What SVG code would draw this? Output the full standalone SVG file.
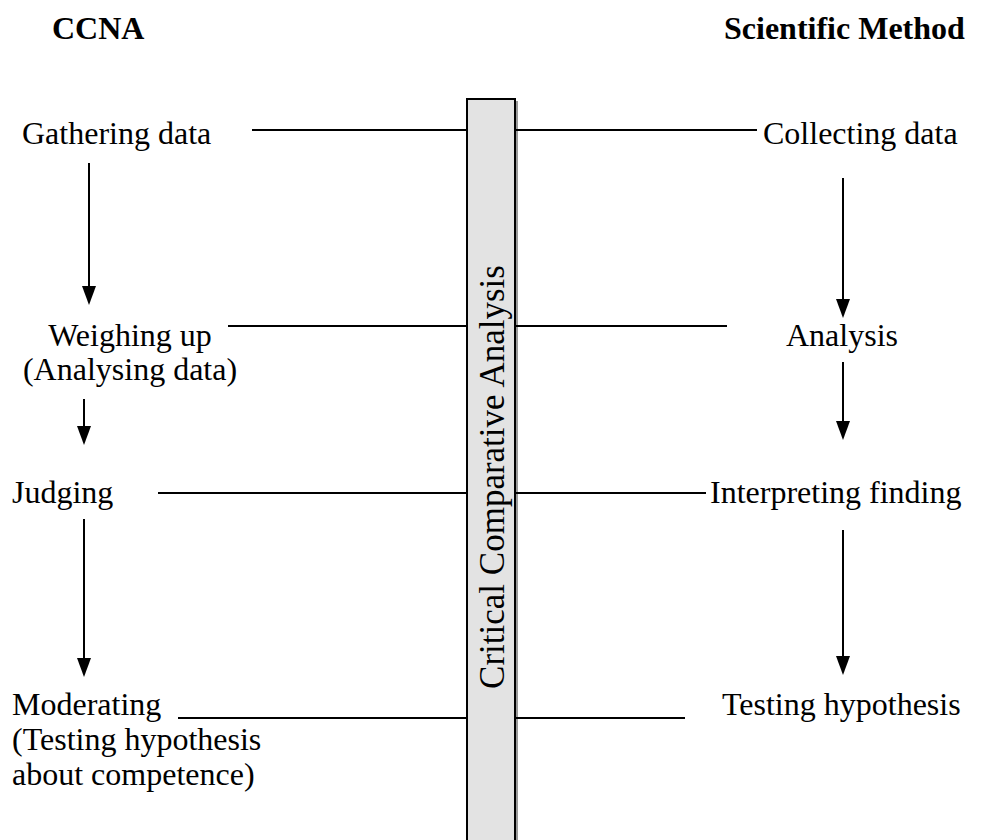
<svg xmlns="http://www.w3.org/2000/svg" width="993" height="840" viewBox="0 0 993 840" font-family="'Liberation Serif', 'Times New Roman', 'DejaVu Serif', serif">
  <style>
    .t { font-family: 'Liberation Serif', 'Times New Roman', 'DejaVu Serif', serif; font-size: 32px; fill: #000; }
    .h { font-family: 'Liberation Serif', 'Times New Roman', 'DejaVu Serif', serif; font-size: 32px; font-weight: bold; fill: #000; }
    .ln { stroke: #000; stroke-width: 2; fill: none; }
    .hd { fill: #000; }
  </style>
  <rect width="993" height="840" fill="#fff"/>

  <!-- column headings -->
  <g id="head-ccna"><text class="h" x="52" y="39">CCNA</text></g>
  <g id="head-sci"><text class="h" x="724" y="39">Scientific Method</text></g>

  <!-- central bar -->
  <g id="bar">
    <line x1="517" y1="101" x2="517" y2="840" stroke="#9a9a9a" stroke-width="2"/>
    <rect x="467" y="99" width="48" height="745" fill="#e3e3e3" stroke="#000" stroke-width="2"/>
    <text class="t" style="font-size:35px" transform="translate(504 477) rotate(-90)" text-anchor="middle">Critical Comparative Analysis</text>
  </g>

  <!-- CCNA steps -->
  <g id="gathering"><text class="t" x="22" y="144">Gathering data</text></g>
  <g id="weighing">
    <text class="t" x="130" y="346" text-anchor="middle">Weighing up</text>
    <text class="t" x="130" y="380" text-anchor="middle">(Analysing data)</text>
  </g>
  <g id="judging"><text class="t" x="12" y="503">Judging</text></g>
  <g id="moderating">
    <text class="t" x="12" y="715">Moderating</text>
    <text class="t" x="12" y="750">(Testing hypothesis</text>
    <text class="t" x="12" y="785">about competence)</text>
  </g>

  <!-- scientific method steps -->
  <g id="collecting"><text class="t" x="763" y="144">Collecting data</text></g>
  <g id="analysis"><text class="t" x="842" y="346" text-anchor="middle">Analysis</text></g>
  <g id="interpreting"><text class="t" x="710" y="503">Interpreting finding</text></g>
  <g id="testing"><text class="t" x="722" y="715">Testing hypothesis</text></g>

  <!-- connectors -->
  <g id="connectors">
    <line class="ln" x1="252" y1="130" x2="467" y2="130"/>
    <line class="ln" x1="515" y1="130" x2="757" y2="130"/>
    <line class="ln" x1="228" y1="326" x2="467" y2="326"/>
    <line class="ln" x1="515" y1="326" x2="727" y2="326"/>
    <line class="ln" x1="158" y1="493" x2="467" y2="493"/>
    <line class="ln" x1="515" y1="493" x2="706" y2="493"/>
    <line class="ln" x1="178" y1="718" x2="467" y2="718"/>
    <line class="ln" x1="515" y1="718" x2="685" y2="718"/>

    <path class="ln" d="M89,163 V286"/><path class="hd" d="M82,286 L96,286 L89,305 Z"/>
    <path class="ln" d="M84,399 V426"/><path class="hd" d="M77,426 L91,426 L84,445 Z"/>
    <path class="ln" d="M84,519 V658"/><path class="hd" d="M77,658 L91,658 L84,677 Z"/>

    <path class="ln" d="M843,178 V299"/><path class="hd" d="M836,299 L850,299 L843,318 Z"/>
    <path class="ln" d="M843,362 V421"/><path class="hd" d="M836,421 L850,421 L843,440 Z"/>
    <path class="ln" d="M843,530 V656"/><path class="hd" d="M836,656 L850,656 L843,675 Z"/>
  </g>
</svg>
